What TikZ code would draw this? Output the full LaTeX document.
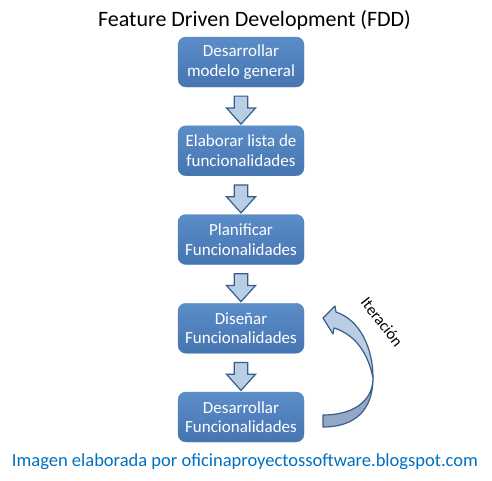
\documentclass[tikz,border=0pt]{standalone}
\usepackage{fontspec}
\setmainfont{Carlito}
\usetikzlibrary{shapes.arrows, positioning, calc}

\definecolor{boxblue}{HTML}{4F81BD}
\definecolor{boxtop}{HTML}{5B8DC9}
\definecolor{boxbot}{HTML}{4675B0}
\definecolor{edgeblue}{HTML}{385D8A}
\definecolor{lightblue}{HTML}{B9CDE5}
\definecolor{darkfold}{HTML}{93A8C6}
\definecolor{linkblue}{HTML}{0070C0}

\tikzset{
  stage/.style={draw=boxblue, rounded corners=8pt, top color=boxtop, bottom color=boxbot,
    minimum width=126pt, minimum height=50pt, align=center, text=white,
    font=\fontsize{17}{19.5}\selectfont, inner sep=2pt},
  downarrow/.style={single arrow, draw=edgeblue, fill=lightblue, line width=1.2pt,
    shape border rotate=270, minimum width=29pt, minimum height=28pt,
    single arrow head extend=7.5pt, single arrow tip angle=84, inner sep=6pt}
}

\begin{document}
\begin{tikzpicture}[x=1pt,y=-1pt]

\useasboundingbox (0,0) rectangle (492,480);

\def\xc{241}
\def\dy{88.75}

\node (title) at (254.5,20) {\fontsize{22}{26}\selectfont Feature Driven Development (FDD)};

\node[stage] (modelo) at (\xc,62) {Desarrollar\\modelo general};
\node[stage] (lista) at (\xc,62+\dy) {Elaborar lista de\\funcionalidades};
\node[stage] (planificar) at (\xc,62+2*\dy) {Planificar\\Funcionalidades};
\node[stage] (disenar) at (\xc,62+3*\dy) {Diseñar\\Funcionalidades};
\node[stage] (construir) at (\xc,62+4*\dy) {Desarrollar\\Funcionalidades};

\node[downarrow] (a1) at ($(modelo.south)!0.5!(lista.north)$) {};
\node[downarrow] (a2) at ($(lista.south)!0.5!(planificar.north)$) {};
\node[downarrow] (a3) at ($(planificar.south)!0.5!(disenar.north)$) {};
\node[downarrow] (a4) at ($(disenar.south)!0.5!(construir.north)$) {};

% curved iteration arrow
\draw[draw=edgeblue, fill=darkfold, line width=1.2pt, line join=round]
  (373,378) .. controls (373,402) and (352,415) .. (323,415) -- (323,427)
  .. controls (355,427) and (373,410) .. (373,378) -- cycle;
\draw[draw=edgeblue, fill=lightblue, line width=1.2pt, line join=round]
  (323,318) -- (335,306) -- (336,312) .. controls (360,320) and (373,348) .. (373,378)
  .. controls (368,352) and (354,334) .. (334,328) -- (333,334) -- cycle;

\node[rotate=-52, font=\fontsize{16}{19}\selectfont] (iter) at (382,322) {Iteración};

\node[text=linkblue] (footer) at (245,462) {\fontsize{18.5}{22}\selectfont Imagen elaborada por oficinaproyectossoftware.blogspot.com};

\end{tikzpicture}
\end{document}
